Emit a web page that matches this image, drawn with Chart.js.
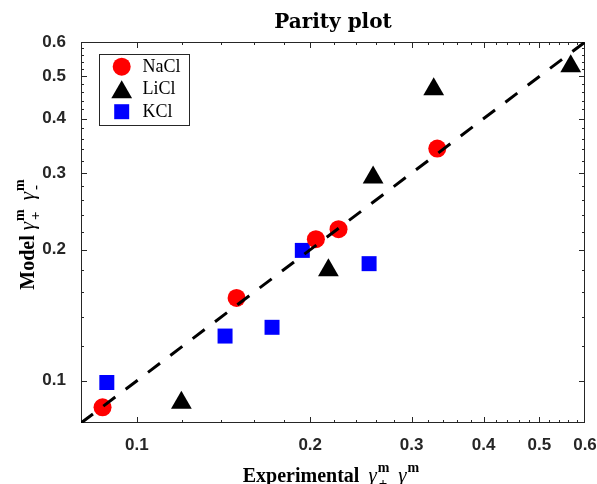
<!DOCTYPE html>
<html lang="en">
<head>
  <meta charset="UTF-8" />
  <title>Parity plot</title>
  <script src="https://cdn.jsdelivr.net/npm/chart.js"></script>
  <style>
    body {
      margin: 0;
      background-color: #ffffff;
    }
    #chart-container {
      width: 597px;
      height: 484px;
    }
  </style>
</head>
<body>

  <div id="chart-container">
    <canvas id="parityChart" width="597" height="484"></canvas>
  </div>

  <script>
    // experimental vs model mean activity coefficients
    const naclExp   = [0.0872, 0.149, 0.2046, 0.224, 0.3324];
    const naclModel = [0.0869, 0.155, 0.2115, 0.223, 0.3414];
    const liclExp   = [0.1195, 0.2151, 0.2572, 0.3277, 0.5667];
    const liclModel = [0.0891, 0.1794, 0.2931, 0.4674, 0.5276];
    const kclExp    = [0.0887, 0.1423, 0.1717, 0.1938, 0.2531];
    const kclModel  = [0.0991, 0.1267, 0.1327, 0.1993, 0.1858];

    const parityLine = [0.08, 0.6];
    const axisRange  = [0.08, 0.6];
    const majorTicks = [0.1, 0.2, 0.3, 0.4, 0.5, 0.6];
    const minorTicks = [0.12, 0.14, 0.16, 0.18, 0.22, 0.24, 0.26, 0.28, 0.32, 0.34,
                        0.36, 0.38, 0.42, 0.44, 0.46, 0.48, 0.52, 0.54, 0.56, 0.58];

    const axisColor = '#262626';
    const serif = '"Liberation Serif", "Times New Roman", serif';

    function toPoints(xs, ys) {
      return xs.map((x, i) => ({ x: x, y: ys[i] }));
    }

    // inward tick marks and the box around the axes, like matlab does it
    const axisFrame = {
      id: 'axisFrame',
      beforeDatasetsDraw(chart) {
        const { ctx, chartArea: a, scales } = chart;
        ctx.save();
        ctx.strokeStyle = axisColor;
        ctx.lineWidth = 1;
        ctx.strokeRect(a.left + 0.5, a.top + 0.5, a.right - a.left - 1, a.bottom - a.top - 1);

        const marks = majorTicks.map(v => [v, 6]).concat(minorTicks.map(v => [v, 3]));
        ctx.beginPath();
        marks.forEach(([v, len]) => {
          const px = Math.round(scales.x.getPixelForValue(v)) + 0.5;
          if (px > a.left + 1 && px < a.right - 1) {
            ctx.moveTo(px, a.bottom); ctx.lineTo(px, a.bottom - len);
            ctx.moveTo(px, a.top);    ctx.lineTo(px, a.top + len);
          }
          const py = Math.round(scales.y.getPixelForValue(v)) + 0.5;
          if (py > a.top + 1 && py < a.bottom - 1) {
            ctx.moveTo(a.left, py);  ctx.lineTo(a.left + len, py);
            ctx.moveTo(a.right, py); ctx.lineTo(a.right - len, py);
          }
        });
        ctx.stroke();
        ctx.restore();
      }
    };

    // boxed legend in the upper left corner, markers same size as in the plot
    const boxLegend = {
      id: 'boxLegend',
      afterDraw(chart) {
        const { ctx, chartArea: a } = chart;
        const left = a.left + 18, top = a.top + 12;
        ctx.save();
        ctx.fillStyle = '#ffffff';
        ctx.fillRect(left, top, 90, 71);
        ctx.strokeStyle = axisColor;
        ctx.lineWidth = 1;
        ctx.strokeRect(left + 0.5, top + 0.5, 90, 71);

        ctx.font = '18px ' + serif;
        ctx.textBaseline = 'alphabetic';
        const offsets = [0, 3, 0];
        chart.data.datasets.slice(1).forEach((ds, i) => {
          const cy = top + 12.7 + i * 22.5 + offsets[i];
          ctx.fillStyle = ds.backgroundColor;
          Chart.helpers.drawPoint(ctx, {
            pointStyle: ds.pointStyle,
            radius: ds.pointRadius,
            rotation: 0,
            borderWidth: 0
          }, left + 22.7, cy);
          ctx.fillStyle = '#000000';
          ctx.fillText(ds.label, left + 43.5, top + 17.5 + i * 22.5);
        });
        ctx.restore();
      }
    };

    // axis titles with the gamma super/subscripts
    function drawGammaTitle(ctx, word, gap) {
      const parts = [
        { text: word, font: 'bold 20px ' + serif },
        { space: gap },
        { text: 'γ', font: 'italic 21px ' + serif },
        { sup: 'm', sub: '+' },
        { space: 9 },
        { text: 'γ', font: 'italic 21px ' + serif },
        { sup: 'm', sub: '-' }
      ];
      const supFont = 'bold 14px ' + serif;
      const subFont = 'bold 15px ' + serif;
      let total = 0;
      parts.forEach(p => {
        if (p.space) p.w = p.space;
        else if (p.text) { ctx.font = p.font; p.w = ctx.measureText(p.text).width; }
        else {
          ctx.font = supFont;
          const a = ctx.measureText(p.sup).width;
          ctx.font = subFont;
          p.w = Math.max(a, ctx.measureText(p.sub).width) + 1;
        }
        total += p.w;
      });
      let x = -total / 2;
      ctx.fillStyle = '#000000';
      ctx.textBaseline = 'alphabetic';
      ctx.textAlign = 'left';
      parts.forEach(p => {
        if (p.text) { ctx.font = p.font; ctx.fillText(p.text, x, 0); }
        else if (p.sup) {
          ctx.font = supFont; ctx.fillText(p.sup, x + 1, -10);
          ctx.font = subFont; ctx.fillText(p.sub, x + 2, 6);
        }
        x += p.w;
      });
    }

    const axisTitles = {
      id: 'axisTitles',
      afterDraw(chart) {
        const { ctx, chartArea: a } = chart;
        const midX = (a.left + a.right) / 2;
        const midY = (a.top + a.bottom) / 2;
        ctx.save();
        ctx.translate(midX - 2, a.bottom + 59);
        drawGammaTitle(ctx, 'Experimental', 9);
        ctx.restore();

        ctx.save();
        ctx.translate(34, midY + 2);
        ctx.rotate(-Math.PI / 2);
        drawGammaTitle(ctx, 'Model', 5);
        ctx.restore();
      }
    };

    const tickFont = { family: '"Liberation Sans", Arial, sans-serif', size: 17, weight: 'bold' };

    function logAxis(fitSize, pad) {
      return {
        type: 'logarithmic',
        min: axisRange[0],
        max: axisRange[1],
        bounds: 'data',
        grid: { display: false },
        border: { display: false },
        afterBuildTicks: scale => {
          scale.ticks = majorTicks.map(v => ({ value: v }));
        },
        afterFit: fitSize,
        ticks: {
          font: tickFont,
          color: axisColor,
          maxRotation: 0,
          autoSkip: false,
          padding: pad,
          callback: v => v.toFixed(1)
        }
      };
    }

    const ctx = document.getElementById('parityChart').getContext('2d');
    const parityChart = new Chart(ctx, {
      type: 'scatter',
      data: {
        datasets: [
          {
            label: 'Parity',
            data: toPoints(parityLine, parityLine),
            showLine: true,
            borderColor: '#000000',
            borderWidth: 3,
            borderDash: [15, 13],
            pointRadius: 0
          },
          {
            label: 'NaCl',
            data: toPoints(naclExp, naclModel),
            pointStyle: 'circle',
            pointRadius: 9,
            backgroundColor: '#ff0000',
            pointBorderWidth: 0,
            borderWidth: 0
          },
          {
            label: 'LiCl',
            data: toPoints(liclExp, liclModel),
            pointStyle: 'triangle',
            pointRadius: 12,
            backgroundColor: '#000000',
            pointBorderWidth: 0,
            borderWidth: 0
          },
          {
            label: 'KCl',
            data: toPoints(kclExp, kclModel),
            pointStyle: 'rect',
            pointRadius: 10.6,
            backgroundColor: '#0000ff',
            pointBorderWidth: 0,
            borderWidth: 0
          }
        ]
      },
      options: {
        responsive: false,
        animation: false,
        events: [],
        layout: { padding: { left: 0, right: 11, top: 0, bottom: 0 } },
        scales: {
          x: Object.assign(logAxis(scale => {
            scale.height = 61;
            scale.paddingLeft = 0;
            scale.paddingRight = 0;
          }, 4), { position: 'bottom' }),
          y: Object.assign(logAxis(scale => {
            scale.width = 81;
            scale.paddingTop = 0;
            scale.paddingBottom = 0;
          }, 7), { position: 'left' })
        },
        plugins: {
          legend: { display: false },
          tooltip: { enabled: false },
          title: {
            display: true,
            text: 'Parity plot',
            fullSize: false,
            color: '#000000',
            font: { family: '"DejaVu Serif", serif', size: 20, weight: 'bold', lineHeight: 1.2 },
            padding: { top: 11, bottom: 7 }
          }
        }
      },
      plugins: [axisFrame, boxLegend, axisTitles]
    });
  </script>
</body>
</html>
